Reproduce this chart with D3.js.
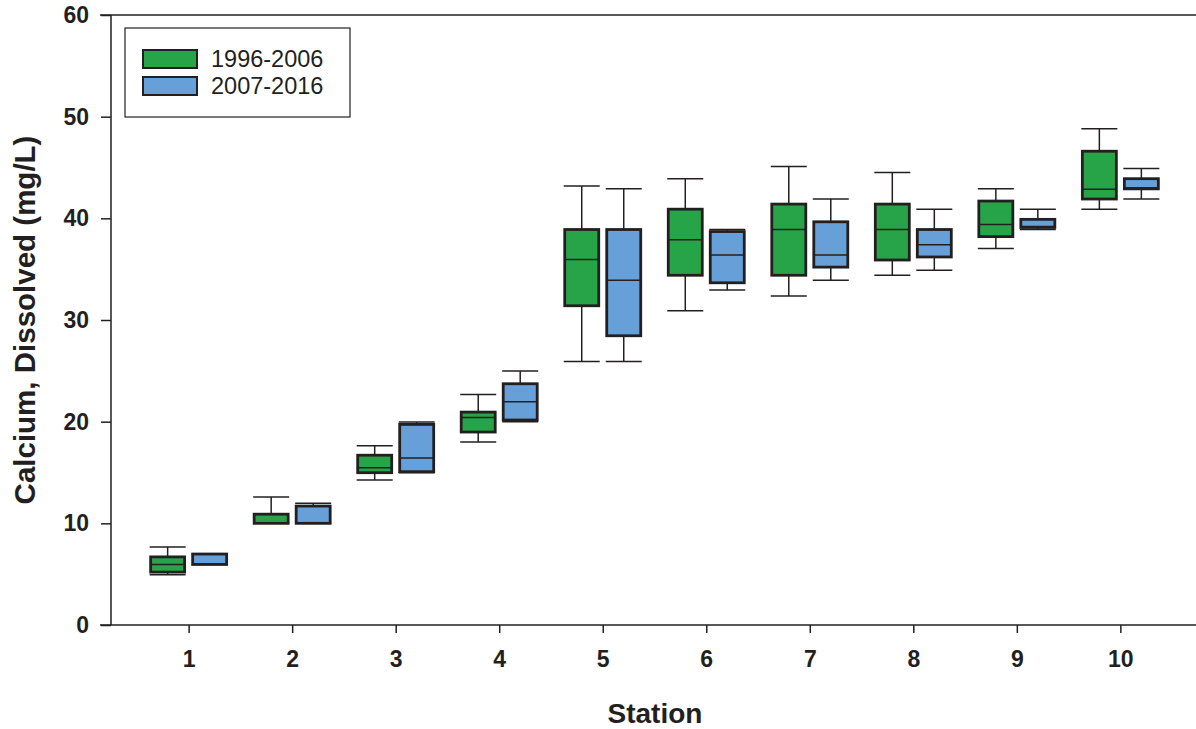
<!DOCTYPE html>
<html>
<head>
<meta charset="utf-8">
<script src="https://cdn.jsdelivr.net/npm/d3@7"></script>
<style>
  body { margin: 0; background: #fff; }
  svg text { font-family: "Liberation Sans", Arial, sans-serif; fill: #231f20; }
</style>
</head>
<body>
<div class="container"></div>
<script>
var stations = [1, 2, 3, 4, 5, 6, 7, 8, 9, 10];
var seriesNames = ['1996-2006', '2007-2016'];
var seriesColors = ['#28a448', '#67a0d8'];
var yTicks = [0, 10, 20, 30, 40, 50, 60];

// [whisker low, q1, median, q3, whisker high] per station
var early = [
	[4.95, 5.2, 5.96, 6.7, 7.67],
	[10.0, 10.0, 10.0, 10.9, 12.6],
	[14.26, 14.98, 15.47, 16.7, 17.63],
	[18.0, 18.98, 20.4, 20.94, 22.68],
	[25.93, 31.4, 35.95, 38.9, 43.17],
	[30.9, 34.4, 37.9, 40.9, 43.9],
	[32.35, 34.4, 38.9, 41.4, 45.1],
	[34.4, 35.9, 38.9, 41.4, 44.5],
	[37.04, 38.2, 39.4, 41.7, 42.9],
	[40.9, 41.9, 42.87, 46.6, 48.8]
];
var late = [
	[5.96, 5.96, 6.0, 6.98, 6.98],
	[10.0, 10.0, 10.0, 11.7, 11.97],
	[14.98, 15.08, 16.42, 19.73, 19.96],
	[20.0, 20.16, 21.96, 23.73, 24.98],
	[25.93, 28.45, 33.9, 38.9, 42.9],
	[32.94, 33.66, 36.4, 38.7, 38.9],
	[33.9, 35.2, 36.4, 39.66, 41.9],
	[34.9, 36.2, 37.4, 38.9, 40.9],
	[38.9, 39.1, 39.2, 39.9, 40.9],
	[41.9, 42.9, 43.0, 43.9, 44.9]
];
var series = [early, late];

var width = 1196, height = 729;
var svg = d3.select('.container').append('svg')
	.attr('width', width)
	.attr('height', height);

var x = d3.scaleLinear().domain([0.25, 10.75]).range([111, 1198]);
var y = d3.scaleLinear().domain([0, 60]).range([625, 15]);

var boxW = 34, capW = 36, offset = 21;

// axes
svg.append('g')
	.attr('transform', 'translate(0,' + y(0) + ')')
	.call(d3.axisBottom(x).tickValues(stations).tickSize(8).tickPadding(18).tickFormat(d3.format('d')))
	.call(function(g) {
		g.select('.domain').attr('stroke', '#231f20').attr('stroke-width', 1.5).attr('d', 'M100,0H1196');
		g.selectAll('.tick line').attr('stroke', '#231f20').attr('stroke-width', 1.5);
		g.selectAll('.tick text').style('font-size', '23px').attr('font-weight', 'bold').attr('fill', '#231f20');
	});

svg.append('g')
	.attr('transform', 'translate(' + 111 + ',0)')
	.call(d3.axisLeft(y).tickValues(yTicks).tickSize(10).tickPadding(12))
	.call(function(g) {
		g.select('.domain').attr('stroke', '#231f20').attr('stroke-width', 1.5).attr('d', 'M0,625V15');
		g.selectAll('.tick line').attr('stroke', '#231f20').attr('stroke-width', 1.5);
		g.selectAll('.tick text').style('font-size', '23px').attr('font-weight', 'bold').attr('fill', '#231f20');
	});

// top frame line
svg.append('line')
	.attr('x1', 100).attr('x2', 1196)
	.attr('y1', y(60)).attr('y2', y(60))
	.attr('stroke', '#231f20').attr('stroke-width', 1.5);

// boxes
series.forEach(function(data, si) {
	var dx = si === 0 ? -offset : offset;
	var g = svg.append('g').attr('class', 'series-' + si);

	data.forEach(function(d, i) {
		var cx = x(stations[i]) + dx;
		// whiskers
		g.append('line')
			.attr('x1', cx).attr('x2', cx)
			.attr('y1', y(d[4])).attr('y2', y(d[3]))
			.attr('stroke', '#231f20').attr('stroke-width', 1.5);
		g.append('line')
			.attr('x1', cx).attr('x2', cx)
			.attr('y1', y(d[1])).attr('y2', y(d[0]))
			.attr('stroke', '#231f20').attr('stroke-width', 1.5);
		[d[0], d[4]].forEach(function(v) {
			g.append('line')
				.attr('x1', cx - capW / 2).attr('x2', cx + capW / 2)
				.attr('y1', y(v)).attr('y2', y(v))
				.attr('stroke', '#231f20').attr('stroke-width', 1.5);
		});
		// box
		g.append('rect')
			.attr('x', cx - boxW / 2)
			.attr('y', y(d[3]))
			.attr('width', boxW)
			.attr('height', Math.max(0, y(d[1]) - y(d[3])))
			.attr('fill', seriesColors[si])
			.attr('stroke', '#231f20')
			.attr('stroke-width', 2.8);
		// median
		g.append('line')
			.attr('x1', cx - boxW / 2).attr('x2', cx + boxW / 2)
			.attr('y1', y(d[2])).attr('y2', y(d[2]))
			.attr('stroke', '#231f20').attr('stroke-width', 1.5);
	});
});

// legend
var legend = svg.append('g').attr('class', 'legend');
legend.append('rect')
	.attr('x', 125).attr('y', 28)
	.attr('width', 225).attr('height', 89)
	.attr('fill', '#fff')
	.attr('stroke', '#231f20')
	.attr('stroke-width', 1.2);

seriesNames.forEach(function(name, i) {
	legend.append('rect')
		.attr('x', 143).attr('y', 50 + i * 27)
		.attr('width', 54).attr('height', 18)
		.attr('fill', seriesColors[i])
		.attr('stroke', '#231f20')
		.attr('stroke-width', 2);
	legend.append('text')
		.attr('x', 211).attr('y', 59 + i * 27)
		.attr('dy', '0.35em')
		.attr('font-size', 23.5)
		.text(name);
});

// axis titles
svg.append('text')
	.attr('x', 655).attr('y', 723)
	.attr('text-anchor', 'middle')
	.attr('font-size', 28)
	.attr('font-weight', 'bold')
	.text('Station');

svg.append('text')
	.attr('transform', 'translate(35,' + y(30) + ') rotate(-90)')
	.attr('text-anchor', 'middle')
	.attr('font-size', 29.5)
	.attr('font-weight', 'bold')
	.text('Calcium, Dissolved (mg/L)');
</script>
</body>
</html>
